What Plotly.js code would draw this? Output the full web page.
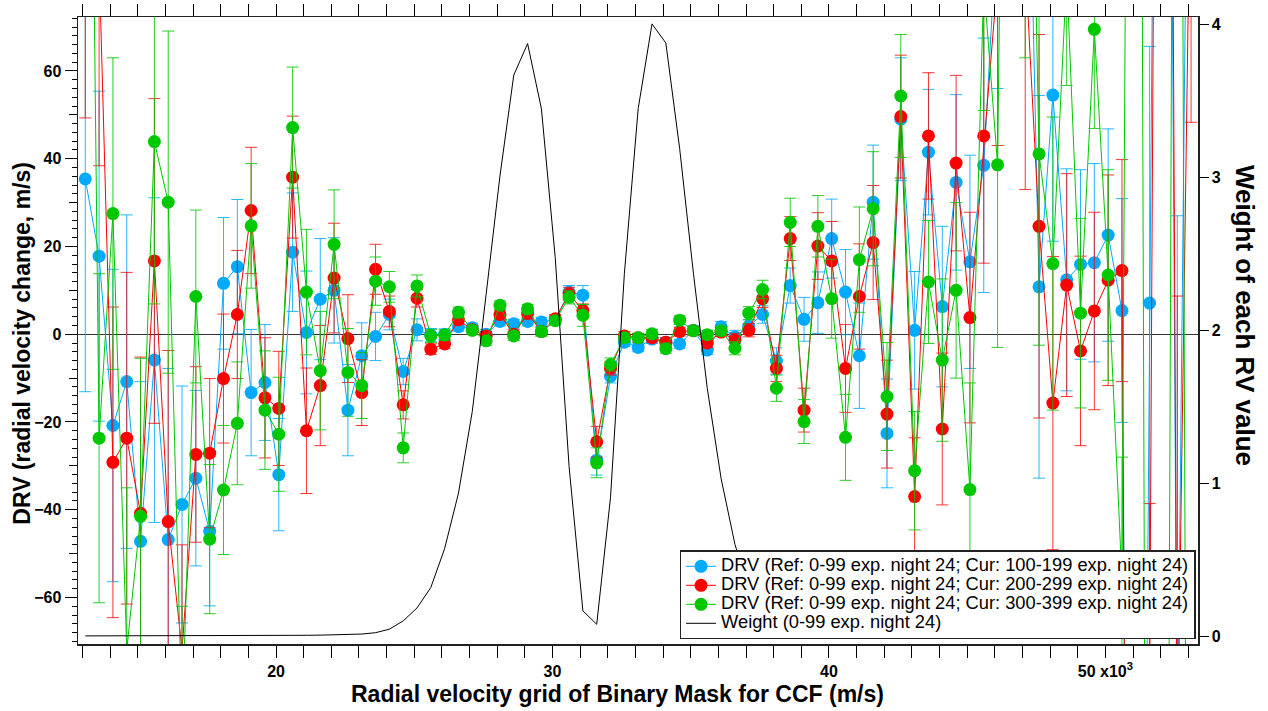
<!DOCTYPE html>
<html>
<head>
<meta charset="utf-8">
<script src="https://cdn.plot.ly/plotly-3.0.1.min.js"></script>
<style>html,body{margin:0;padding:0;background:#fff;}#chart{width:1268px;height:711px;}</style>
</head>
<body>
<div id="chart"></div>
<script>
// Radial velocity grid (m/s)
const rvGrid = [13100,13600,14100,14600,15100,15600,16100,16600,17100,17600,
18100,18600,19100,19600,20100,20600,21100,21600,22100,22600,
23100,23600,24100,24600,25100,25600,26100,26600,27100,27600,
28100,28600,29100,29600,30100,30600,31100,31600,32100,32600,
33100,33600,34100,34600,35100,35600,36100,36600,37100,37600,
38100,38600,39100,39600,40100,40600,41100,41600,42100,42600,
43100,43600,44100,44600,45100,45600,46100,46600,47100,47600,
48100,48600,49100,49600,50100,50600,51100,51600,52100,52600,53100];

// DRV series (m/s)
const drvBlue = [35.4,17.8,-20.8,-10.8,-47.2,-5.9,-46.8,-38.8,-32.8,-44.9,
11.6,15.4,-13.3,-11.0,-32.0,18.7,0.4,8.0,10.0,-17.3,
-4.9,-0.5,4.5,-8.5,1.0,-0.2,0.0,1.7,1.5,0.0,
2.9,2.4,2.9,2.8,3.3,9.6,8.9,-28.7,-9.6,-1.8,
-3.0,-1.1,-1.8,-2.2,0.9,-3.6,1.7,-0.6,1.8,4.5,
-6.1,11.1,3.4,7.2,21.8,9.6,-4.9,30.1,-22.6,49.0,
0.9,41.5,6.3,34.6,16.5,38.5,96,150,155,10.8,
54.5,12.4,15.9,16.3,22.6,5.4,-400,7.1,400,-100,200];
const errBlue = [48.5,37.6,35.6,38,36.4,37,39,27,20,17,
15,15.3,14.4,13.2,12.8,13.5,14,13.8,12,10.4,
7.5,5.5,3.5,3,2.5,1.5,1.2,1,1,1,
1,1,1,1,1,1.5,2.2,3.4,1.5,1,
1,1,1,1,1,1,1.2,1.5,1.5,2,
3,4,5,7,9,9.7,12,13,12.4,14,
13.4,14.3,18.3,20,24.3,29,40,45,50,43.6,
33.3,25.3,21.6,22.6,24.2,25.5,60,58.5,100,127,100];

const drvRed = [90,85,-29.2,-23.7,-40.8,16.7,-42.7,-72,-27.4,-27.1,
-10.1,4.5,28.2,-14.5,-16.9,35.8,-22.0,-11.7,12.8,-1.0,
-13.3,14.8,5.2,-16.1,8.2,-3.4,-2.2,3.3,1.0,-0.4,
4.5,0.0,4.7,0.6,3.5,9.2,5.4,-24.5,-7.8,-0.4,
-0.8,-0.8,-1.8,0.6,0.8,-2.0,0.5,-1.3,0.9,8.1,
-7.8,21.8,-17.3,20.1,16.7,-7.8,8.6,20.9,-18.2,49.6,
-37.0,45.2,-21.6,39.0,3.8,45.2,83,120,85,24.6,
-15.7,11.2,-3.8,5.3,12.3,14.5,-500,-80,500,-100,120];
const errRed = [40.7,46.6,35.4,37.8,35.6,37,39,24,20,17,
14.7,14.6,14.4,13.7,13,13.9,14.3,13.7,12.5,10,
7.5,5.7,3.5,3.2,2,1.2,1.1,1,1,1,
1,1,1,1,1,1.5,1.5,3.5,1.5,1,
1,1,1,1,1,1,1,1.5,1.5,2,
3,5,5,7.6,9,10,12,13,12.3,14,
13.4,14.4,17.3,20,24,29,40,45,52,43.7,
33.4,25.4,21.6,22.5,24,25.3,60,41.4,100,108.7,71.7];

const drvGreen = [260,-23.7,27.5,-72,-41.5,43.9,30.1,-88,8.6,-46.7,
-35.5,-20.3,24.7,-17.3,-22.8,47.1,9.6,-8.3,20.5,-8.7,
-11.7,12.1,10.8,-25.9,11.0,-0.4,-0.2,5.0,0.9,-1.5,
6.6,-0.4,5.8,0.6,3.1,8.4,4.3,-29.3,-6.9,-0.8,
-0.8,0.1,-3.3,3.2,0.8,-0.1,0.8,-3.2,4.8,10.2,
-12.3,25.5,-19.9,24.6,8.1,-23.5,17.0,28.6,-14.2,54.3,
-31.1,11.9,-5.9,10.0,-35.4,80,38.6,300,200,41.1,
16.1,82,4.8,69.5,13.5,-56,500,-400,-400,400,-400];
const errGreen = [40,37.5,35.5,37,36,37,39,26,19.7,17,
14.7,14,14.2,13.5,13,13.8,14.3,13.5,12.4,10,
7.5,5.5,3.5,3.4,2.5,1.5,1.2,1.2,1,1,
1,1,1,1,1,1.5,2.5,3.4,1.5,1,
1,1,1,1,1,1,1,1.5,1.5,2.1,
3,5.5,5,7,9,9.8,12,13,12.3,14,
13.5,14,18.5,20,24.3,29,41.6,45,137,43.6,
33.4,25.3,21.6,22.6,24,28,60,60,60,60,60];

// Weight of each RV value
const weight = [0.001,0.001,0.001,0.001,0.001,0.001,0.002,0.002,0.002,0.002,
0.002,0.003,0.003,0.003,0.004,0.004,0.005,0.006,0.007,0.009,
0.013,0.022,0.045,0.099,0.184,0.318,0.573,0.935,1.47,2.235,
3.01,3.67,3.876,3.45,2.476,1.11,0.165,0.077,0.908,2.37,
3.45,4.005,3.88,3.19,2.37,1.62,1.03,0.6,0.3,0.14,
0.07,0.04,0.025,0.018,0.013,0.01,0.008,0.007,0.006,0.005,
0.005,0.005,0.004,0.004,0.004,0.004,0.003,0.003,0.003,0.003,
0.003,0.003,0.002,0.002,0.002,0.002,0.002,0.002,0.002,0.002,0.002];

const legendNames = [
  'DRV (Ref: 0-99 exp. night 24; Cur: 100-199 exp. night 24)',
  'DRV (Ref: 0-99 exp. night 24; Cur: 200-299 exp. night 24)',
  'DRV (Ref: 0-99 exp. night 24; Cur: 300-399 exp. night 24)',
  'Weight (0-99 exp. night 24)'
];

const FONT = 'Liberation Sans, Arial, Helvetica, sans-serif';
const legendLabel = s => '<span style="font-size:18.3px">' + s + '</span>';

function drvTrace(y, err, color, errColor, name) {
  return {
    x: rvGrid, y: y, name: legendLabel(name), type: 'scatter', mode: 'lines+markers',
    line: {color: color, width: 1},
    marker: {color: color, size: 13, line: {width: 0}},
    error_y: {type: 'data', array: err, visible: true, color: errColor, thickness: 1, width: 6},
    xaxis: 'x', yaxis: 'y', hoverinfo: 'x+y'
  };
}

const traces = [
  drvTrace(drvBlue, errBlue, 'rgb(0,170,255)', 'rgba(0,170,255,0.85)', legendNames[0]),
  drvTrace(drvRed, errRed, 'rgb(255,0,0)', 'rgba(255,0,0,0.8)', legendNames[1]),
  drvTrace(drvGreen, errGreen, 'rgb(0,200,0)', 'rgba(0,200,0,0.85)', legendNames[2]),
  {x: rvGrid, y: weight, name: legendLabel(legendNames[3]), type: 'scatter', mode: 'lines',
   line: {color: '#000', width: 1}, xaxis: 'x', yaxis: 'y2'},
  {x: [null], y: [null], xaxis: 'x2', yaxis: 'y', showlegend: false, hoverinfo: 'skip', mode: 'markers'},
  {x: [null], y: [null], xaxis: 'x', yaxis: 'y3', showlegend: false, hoverinfo: 'skip', mode: 'markers'}
];

const tickFont = {family: FONT, size: 16, color: '#000', weight: 'bold'};
const xRange = [12837, 53350];
const yRange = [-70.6, 72.3];

const layout = {
  width: 1268, height: 711,
  margin: {l: 78, r: 70, t: 17, b: 67, pad: 0},
  paper_bgcolor: '#fff', plot_bgcolor: '#fff',
  showlegend: true,
  legend: {
    x: 0.9978, y: 0.0075, xanchor: 'right', yanchor: 'bottom',
    bgcolor: '#fff', bordercolor: '#222', borderwidth: 1.5,
    font: {family: FONT, size: 12, color: '#000'}, tracegroupgap: 0
  },
  xaxis: {
    range: xRange, tickmode: 'linear', tick0: 0, dtick: 10000,
    labelalias: {'20k': '20', '30k': '30', '40k': '40', '50k': '50 x10<sup>3</sup>'},
    ticks: 'outside', ticklen: 12, tickwidth: 1, tickcolor: '#000',
    minor: {dtick: 1000, tick0: 0, ticks: 'outside', ticklen: 6, tickwidth: 1, tickcolor: '#000'},
    showline: true, linecolor: '#222', linewidth: 1.5, mirror: 'allticks',
    showgrid: false, zeroline: false, tickfont: tickFont
  },
  xaxis2: {
    range: xRange, overlaying: 'x', anchor: 'y', side: 'bottom',
    tickmode: 'array', tickvals: [15000, 25000, 35000, 45000],
    ticks: 'outside', ticklen: 9, tickwidth: 1, tickcolor: '#000',
    showticklabels: false, showline: false, showgrid: false, zeroline: false
  },
  yaxis: {
    range: yRange, tickmode: 'linear', tick0: 0, dtick: 20,
    ticks: 'outside', ticklen: 12, tickwidth: 1, tickcolor: '#000',
    minor: {dtick: 2, tick0: 0, ticks: 'outside', ticklen: 5, tickwidth: 1, tickcolor: '#000'},
    showline: true, linecolor: '#222', linewidth: 1.5,
    showgrid: false, zeroline: true, zerolinecolor: '#333', zerolinewidth: 1,
    tickfont: tickFont
  },
  yaxis3: {
    range: yRange, overlaying: 'y', anchor: 'x', side: 'left',
    tickmode: 'array', tickvals: [-50, -30, -10, 10, 30, 50],
    ticks: 'outside', ticklen: 8, tickwidth: 1, tickcolor: '#000',
    showticklabels: false, showline: false, showgrid: false, zeroline: false
  },
  yaxis2: {
    range: [-0.052, 4.05], overlaying: 'y', side: 'right', anchor: 'x',
    tickmode: 'array', tickvals: [0, 1, 2, 3, 4],
    ticks: 'outside', ticklen: 9, tickwidth: 1, tickcolor: '#000',
    showline: true, linecolor: '#222', linewidth: 1.5,
    showgrid: false, zeroline: false, tickfont: tickFont
  },
  annotations: [
    {text: 'Radial velocity grid of Binary Mask for CCF (m/s)', xref: 'paper', yref: 'paper',
     x: 0.482, y: -0.0805, xanchor: 'center', yanchor: 'middle', showarrow: false,
     font: {family: FONT, size: 23, color: '#000', weight: 'bold'}},
    {text: 'DRV (radial velocity change, m/s)', xref: 'paper', yref: 'paper',
     x: -0.05, y: 0.479, xanchor: 'center', yanchor: 'middle', showarrow: false, textangle: -90,
     font: {family: FONT, size: 23, color: '#000', weight: 'bold'}},
    {text: 'Weight of each RV value', xref: 'paper', yref: 'paper',
     x: 1.042, y: 0.5247, xanchor: 'center', yanchor: 'middle', showarrow: false, textangle: 90,
     font: {family: FONT, size: 26, color: '#000', weight: 'bold'}}
  ]
};

Plotly.newPlot('chart', traces, layout, {displayModeBar: false, staticPlot: true});
</script>
</body>
</html>
